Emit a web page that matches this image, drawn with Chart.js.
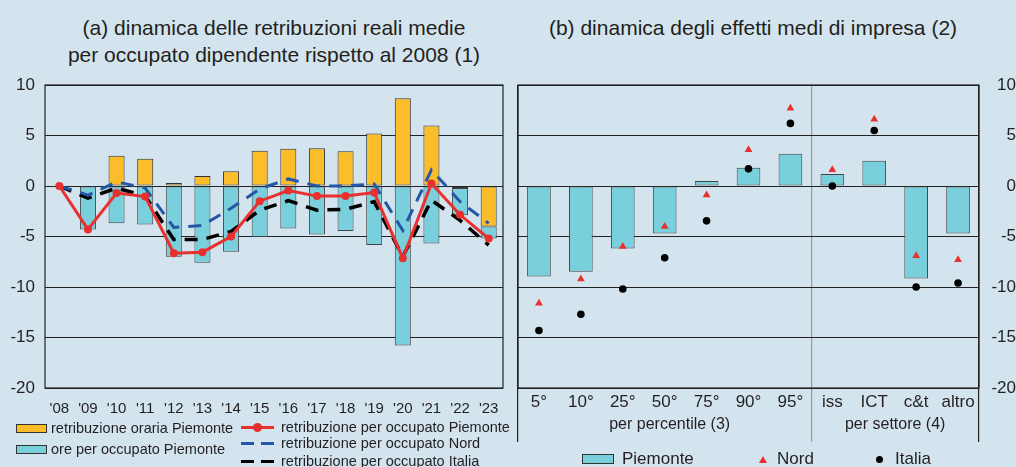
<!DOCTYPE html>
<html>
<head>
<meta charset="utf-8">
<script src="https://cdn.jsdelivr.net/npm/chart.js@4/dist/chart.umd.min.js"></script>
<style>
  html, body { margin: 0; padding: 0; }
  body {
    width: 1016px; height: 467px; overflow: hidden; position: relative;
    background: #d3e4ee; font-family: "Liberation Sans", Arial, sans-serif; color: #231f20;
  }
  canvas { position: absolute; top: 0; }
  .title { position: absolute; font-size: 21px; line-height: 27px; text-align: center; white-space: nowrap; }
  .leg { position: absolute; white-space: nowrap; display: flex; align-items: center; }
  .box { display: inline-block; border: 1px solid #333; box-sizing: border-box; }
  .dash { display: inline-block; height: 3px; width: 13px; }
</style>
</head>
<body>
<div class="title" style="left:24px; width:500px; top:14px;">(a) dinamica delle retribuzioni reali medie<br>per occupato dipendente rispetto al 2008 (1)</div>
<div class="title" style="left:503px; width:500px; top:14px;">(b) dinamica degli effetti medi di impresa (2)</div>

<canvas id="chartA" width="512" height="467" style="left:0; width:512px; height:467px;"></canvas>
<canvas id="chartB" width="510" height="467" style="left:506px; width:510px; height:467px;"></canvas>

<!-- legend (a) -->
<div class="leg" style="left:16px; top:419px; font-size:14.5px; height:18px;">
  <span class="box" style="width:31px; height:9px; background:#fbbd29; margin-right:4px;"></span>retribuzione oraria Piemonte
</div>
<div class="leg" style="left:16px; top:440px; font-size:14.5px; height:18px;">
  <span class="box" style="width:31px; height:9px; background:#7acfdc; margin-right:4px;"></span>ore per occupato Piemonte
</div>
<div class="leg" style="left:241px; top:418px; font-size:14.5px; height:18px;">
  <span style="position:relative; display:inline-block; width:33px; height:3px; background:#e8312f; margin-right:7px;">
    <span style="position:absolute; left:12px; top:-3px; width:9px; height:9px; border-radius:50%; background:#e8312f;"></span>
  </span>retribuzione per occupato Piemonte
</div>
<div class="leg" style="left:241px; top:434px; font-size:14.5px; height:18px;">
  <span class="dash" style="background:#2458a6; margin-right:7px;"></span><span class="dash" style="background:#2458a6; margin-right:7px;"></span>retribuzione per occupato Nord
</div>
<div class="leg" style="left:241px; top:452px; font-size:14.5px; height:18px;">
  <span class="dash" style="background:#000; margin-right:7px;"></span><span class="dash" style="background:#000; margin-right:7px;"></span>retribuzione per occupato Italia
</div>

<!-- legend (b) -->
<div class="leg" style="left:582px; top:449px; font-size:17px; height:20px;">
  <span class="box" style="width:32px; height:10px; background:#7acfdc; margin-right:8px;"></span>Piemonte
</div>
<div class="leg" style="left:759px; top:449px; font-size:17px; height:20px;">
  <span style="display:inline-block; width:0; height:0; border-left:4px solid transparent; border-right:4px solid transparent; border-bottom:7px solid #e8312f; margin-right:10px;"></span>Nord
</div>
<div class="leg" style="left:876px; top:449px; font-size:17px; height:20px;">
  <span style="display:inline-block; width:7px; height:7px; border-radius:50%; background:#000; margin-right:12px;"></span>Italia
</div>

<script>
// (a) retribuzioni reali medie, variazioni rispetto al 2008
const years = ["'08", "'09", "'10", "'11", "'12", "'13", "'14", "'15", "'16", "'17", "'18", "'19", "'20", "'21", "'22", "'23"];
const orariaPiemonte = [null, null, 3.0, 2.7, 0.3, 1.0, 1.45, 3.5, 3.7, 3.75, 3.45, 5.2, 8.7, 6.0, -0.2, -4.0];
const orePiemonte = [null, -4.3, -3.7, -3.8, -7.0, -7.6, -6.5, -5.05, -4.2, -4.8, -4.45, -5.85, -15.8, -5.7, -2.7, -1.2];
const retribPiemonte = [0, -4.3, -0.7, -1.05, -6.65, -6.55, -5.0, -1.5, -0.45, -1.0, -1.0, -0.65, -7.15, 0.25, -2.85, -5.2];
const retribNord = [0, -0.9, 0.4, -0.2, -4.1, -3.9, -2.2, -0.3, 0.7, 0.0, 0.0, 0.2, -4.4, 1.6, -1.55, -3.7];
const retribItalia = [0, -1.2, -0.2, -1.0, -5.3, -5.3, -4.5, -2.4, -1.45, -2.4, -2.3, -1.55, -7.0, -1.4, -3.4, -5.85];

// (b) effetti medi di impresa
const categoriesB = ['5°', '10°', '25°', '50°', '75°', '90°', '95°', 'iss', 'ICT', 'c&t', 'altro'];
const piemonteB = [-8.95, -8.5, -6.2, -4.7, 0.5, 1.8, 3.2, 1.2, 2.5, -9.15, -4.7];
const nordB = [-11.6, -9.2, -6.0, -4.0, -0.9, 3.6, 7.7, 1.6, 6.6, -6.9, -7.3];
const italiaB = [-14.3, -12.7, -10.2, -7.1, -3.45, 1.7, 6.2, 0.0, 5.5, -10.0, -9.6];

const groupLabels = ['per percentile (3)', 'per settore (4)'];
const yMin = -20, yMax = 10, yStep = 5;

const FONT = '"Liberation Sans", Arial, sans-serif';
const TEXT = '#231f20';

// frame around plot area
const framePlugin = {
  id: 'frame',
  afterDraw(chart) {
    const { ctx, chartArea: a } = chart;
    ctx.save();
    ctx.strokeStyle = '#222';
    ctx.lineWidth = 1.2;
    ctx.strokeRect(a.left, a.top, a.right - a.left, a.bottom - a.top);
    ctx.restore();
  }
};

// group labels under the category axis of (b)
const groupPlugin = {
  id: 'groups',
  afterDraw(chart) {
    const x = chart.scales.x;
    const ctx = chart.ctx;
    const centers = [
      (x.getPixelForValue(0) + x.getPixelForValue(6)) / 2 + 5,
      (x.getPixelForValue(7) + x.getPixelForValue(10)) / 2
    ];
    ctx.save();
    ctx.fillStyle = TEXT;
    ctx.font = '16px ' + FONT;
    ctx.textAlign = 'center';
    ctx.textBaseline = 'middle';
    groupLabels.forEach((t, i) => ctx.fillText(t, centers[i], 425));
    ctx.restore();
  }
};

Chart.defaults.font.family = FONT;
Chart.defaults.color = TEXT;
Chart.defaults.animation = false;

new Chart(document.getElementById('chartA'), {
  type: 'bar',
  data: {
    labels: years,
    datasets: [
      {
        type: 'line', label: 'retribuzione per occupato Piemonte', data: retribPiemonte,
        borderColor: '#e8312f', backgroundColor: '#e8312f', borderWidth: 3,
        pointRadius: 4, pointBorderWidth: 0, stack: 'p', order: 0
      },
      {
        type: 'line', label: 'retribuzione per occupato Nord', data: retribNord,
        borderColor: '#2458a6', borderWidth: 3, borderDash: [13, 9],
        pointRadius: 0, stack: 'n', order: 1
      },
      {
        type: 'line', label: 'retribuzione per occupato Italia', data: retribItalia,
        borderColor: '#000', borderWidth: 3.5, borderDash: [13, 9],
        pointRadius: 0, stack: 'i', order: 2
      },
      {
        label: 'retribuzione oraria Piemonte', data: orariaPiemonte,
        backgroundColor: '#fbbd29', borderColor: '#333', borderWidth: 1, borderSkipped: false,
        barPercentage: 0.56, categoryPercentage: 1, stack: 'bars', order: 3
      },
      {
        label: 'ore per occupato Piemonte', data: orePiemonte,
        backgroundColor: '#7acfdc', borderColor: '#444', borderWidth: 1, borderSkipped: false,
        barPercentage: 0.56, categoryPercentage: 1, stack: 'bars', order: 4
      }
    ]
  },
  options: {
    responsive: false,
    layout: { padding: { top: 85, right: 9, left: 0, bottom: 0 } },
    plugins: { legend: { display: false }, tooltip: { enabled: false } },
    scales: {
      x: {
        stacked: true,
        grid: { display: false },
        border: { display: false },
        ticks: { font: { size: 15 }, padding: 4, maxRotation: 0, autoSkip: false },
        afterFit(s) { s.height = 79; }
      },
      y: {
        stacked: true,
        min: yMin, max: yMax,
        grid: { color: '#222', lineWidth: 1, drawTicks: false },
        border: { display: false },
        ticks: { stepSize: yStep, font: { size: 17 }, padding: 10 },
        afterFit(s) { s.width = 45; }
      }
    }
  },
  plugins: [framePlugin]
});

new Chart(document.getElementById('chartB'), {
  type: 'bar',
  data: {
    labels: categoriesB,
    datasets: [
      {
        type: 'line', label: 'Nord', data: nordB, showLine: false,
        pointStyle: 'triangle', pointRadius: 4.5, pointBorderWidth: 0,
        backgroundColor: '#e8312f', borderColor: '#e8312f', order: 0
      },
      {
        type: 'line', label: 'Italia', data: italiaB, showLine: false,
        pointStyle: 'circle', pointRadius: 3.8, pointBorderWidth: 0,
        backgroundColor: '#000', borderColor: '#000', order: 1
      },
      {
        label: 'Piemonte', data: piemonteB,
        backgroundColor: '#7acfdc', borderColor: '#444', borderWidth: 1, borderSkipped: false,
        barPercentage: 0.565, categoryPercentage: 1, order: 2
      }
    ]
  },
  options: {
    responsive: false,
    layout: { padding: { top: 85, right: 0, left: 12, bottom: 0 } },
    plugins: { legend: { display: false }, tooltip: { enabled: false } },
    scales: {
      x: {
        grid: {
          offset: true,
          tickLength: 54,
          lineWidth: 1.2,
          color: (c) => {
            if (c.index === 7) return '#9a9a9a';
            if (c.index === 0 || c.index === undefined) return '#222';
            return 'rgba(0,0,0,0)';
          }
        },
        border: { display: false },
        ticks: { font: { size: 17 }, padding: -50, maxRotation: 0, autoSkip: false },
        afterFit(s) { s.height = 79; }
      },
      y: {
        position: 'right',
        min: yMin, max: yMax,
        grid: { color: '#222', lineWidth: 1, drawTicks: false },
        border: { display: false },
        ticks: { stepSize: yStep, font: { size: 17 }, padding: 6, crossAlign: 'far' },
        afterFit(s) { s.width = 37; }
      }
    }
  },
  plugins: [framePlugin, groupPlugin]
});
</script>
</body>
</html>
